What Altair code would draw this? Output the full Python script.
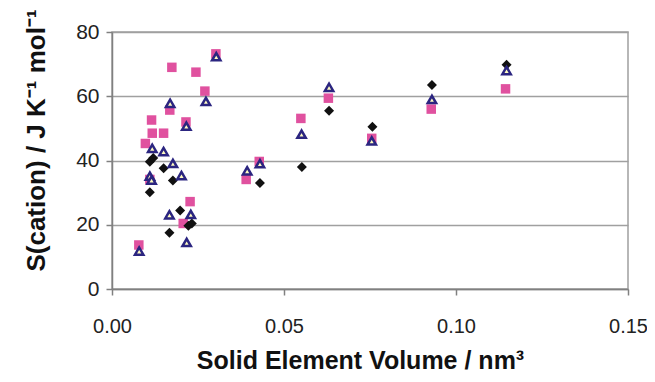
import altair as alt
import pandas as pd

# Pink squares
sq_x = [0.0078, 0.0097, 0.0110, 0.0115, 0.0117, 0.0150, 0.0168, 0.0174, 0.0207, 0.0215,
        0.0227, 0.0244, 0.0270, 0.0302, 0.0390, 0.0428, 0.0549, 0.0629, 0.0755, 0.0928, 0.1144]
sq_y = [13.7, 45.3, 34.1, 52.6, 48.5, 48.5, 55.7, 69.0, 20.4, 52.0,
        27.2, 67.5, 61.6, 73.2, 34.1, 39.7, 53.1, 59.4, 46.9, 56.0, 62.3]

# Black diamonds
dm_x = [0.0110, 0.0110, 0.0120, 0.0150, 0.0167, 0.0177, 0.0198, 0.0222, 0.0232,
        0.0430, 0.0552, 0.0631, 0.0757, 0.0930, 0.1147]
dm_y = [30.1, 39.6, 40.8, 37.6, 17.5, 33.8, 24.4, 19.7, 20.4,
        33.0, 38.0, 55.5, 50.5, 63.5, 69.8]

# Open triangles
tr_x = [0.0079, 0.0110, 0.0115, 0.0117, 0.0150, 0.0167, 0.0169, 0.0177, 0.0202, 0.0216,
        0.0217, 0.0229, 0.0273, 0.0303, 0.0393, 0.0430, 0.0551, 0.0631, 0.0755, 0.0930, 0.1147]
tr_y = [11.8, 35.1, 33.9, 43.8, 42.8, 23.1, 57.8, 39.1, 35.3, 50.7,
        14.5, 23.2, 58.4, 72.3, 36.8, 39.0, 48.2, 62.8, 46.1, 59.0, 68.0]

x_ticks = [0.0, 0.05, 0.10, 0.15]
y_ticks = [0, 20, 40, 60, 80]

sq = pd.DataFrame({"x": sq_x, "y": sq_y})
dm = pd.DataFrame({"x": dm_x, "y": dm_y})
tr = pd.DataFrame({"x": tr_x, "y": tr_y})

W, H = 516, 257

xenc = alt.X("x:Q", scale=alt.Scale(domain=[0, 0.15], nice=False),
             axis=alt.Axis(values=x_ticks, format=".2f", grid=False, labelFlush=False,
                           labelFontSize=20, labelPadding=21,
                           title="Solid Element Volume / nm³", titleFontSize=25,
                           titleX=248, titleY=79, titleBaseline="alphabetic",
                           titleAlign="center"))
yenc = alt.Y("y:Q", scale=alt.Scale(domain=[0, 80], nice=False),
             axis=alt.Axis(values=y_ticks, grid=True, labelFlush=False,
                           labelFontSize=21, labelPadding=7,
                           title="S(cation) / J K⁻¹ mol⁻¹", titleFontSize=26,
                           titleX=-76, titleY=108, titleAngle=-90,
                           titleBaseline="middle", titleAlign="center"))

pink = alt.Chart(sq).mark_square(filled=True, color="#e0519f", size=90, opacity=1).encode(x=xenc, y=yenc)
black = alt.Chart(dm).mark_point(shape="diamond", filled=True, color="#111111", size=100, opacity=1).encode(x=xenc, y=yenc)
tri = alt.Chart(tr).mark_point(shape="triangle-up", filled=True, fill="#fffcc0",
                               stroke="#2b2580", strokeWidth=2.5, size=70, opacity=1).encode(x=xenc, y=yenc)

chart = alt.layer(pink, black, tri).properties(
    width=W, height=H,
    autosize=alt.AutoSizeParams(type="none"),
    padding={"left": 104, "top": 24, "right": 19, "bottom": 85},
    background="white",
).configure_view(
    stroke="#a0a0a0", strokeWidth=1.5
).configure_axis(
    domainColor="#808080", domainWidth=1.5,
    tickColor="#808080", tickWidth=1.5, tickSize=6,
    gridColor="#a0a0a0", gridWidth=1.5,
    labelFont="Liberation Sans", labelColor="#222222",
    titleFont="Liberation Sans", titleFontWeight="bold", titleColor="#111111",
)

chart.save("out.html", embed_options={"renderer": "svg", "actions": False})
